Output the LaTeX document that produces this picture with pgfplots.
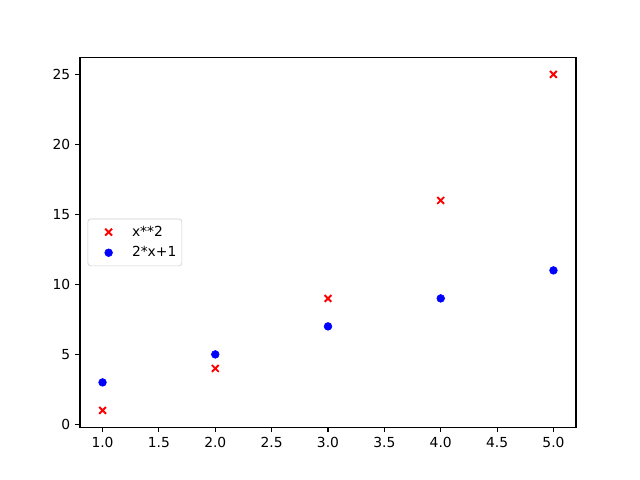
\documentclass[border=0pt]{standalone}
\usepackage{pgfplots}
\pgfplotsset{compat=1.18}
\usepackage{fontspec}
\setmainfont{DejaVu Sans}
\definecolor{mred}{rgb}{1,0,0}
\definecolor{mblue}{rgb}{0,0,1}
\begin{document}
\fontsize{10pt}{12pt}\selectfont
\begin{tikzpicture}
\path[use as bounding box] (-0.8in,-0.528in) rectangle (5.6in,4.272in);
\begin{axis}[
  at={(0,0)}, anchor=south west,
  scale only axis, width=4.96in, height=3.696in,
  xmin=0.8, xmax=5.2, ymin=-0.2, ymax=26.2,
  xtick={1,1.5,2,2.5,3,3.5,4,4.5,5},
  ytick={0,5,10,15,20,25},
  xticklabel style={/pgf/number format/.cd,fixed,fixed zerofill,precision=1},
  /pgf/number format/assume math mode=true,
  tick align=outside, major tick length=3.5pt,
  tick style={black, line width=0.8pt},
  axis line style={line width=0.8pt},
  xtick pos=bottom, ytick pos=left,
  tick label style={font=\fontsize{10pt}{12pt}\selectfont},
  legend style={at={(0.0,0.5)}, anchor=west, xshift=5.5pt, draw=black!20, rounded corners=2pt, font=\fontsize{10pt}{12pt}\selectfont, row sep=2pt, column sep=1.9pt, inner xsep=2pt, inner ysep=3pt},
  legend image code/.code={\draw[#1, draw=none, mark repeat=2, mark phase=2] plot coordinates {(0pt,0pt)(13pt,0pt)(26pt,0pt)};},
  legend cell align=left,
]
\addplot[draw=none, mark=x, mark size=3.5pt, mark options={draw=mred, line width=1.4pt}] coordinates {(1,1) (2,4) (3,9) (4,16) (5,25)};
\addlegendentry{x**2}
\addplot[draw=none, mark=*, mark size=2.8pt, mark options={draw=mblue, fill=mblue, line width=0.4pt}] coordinates {(1,3) (2,5) (3,7) (4,9) (5,11)};
\addlegendentry{2*x+1}
\end{axis}
\end{tikzpicture}
\end{document}
